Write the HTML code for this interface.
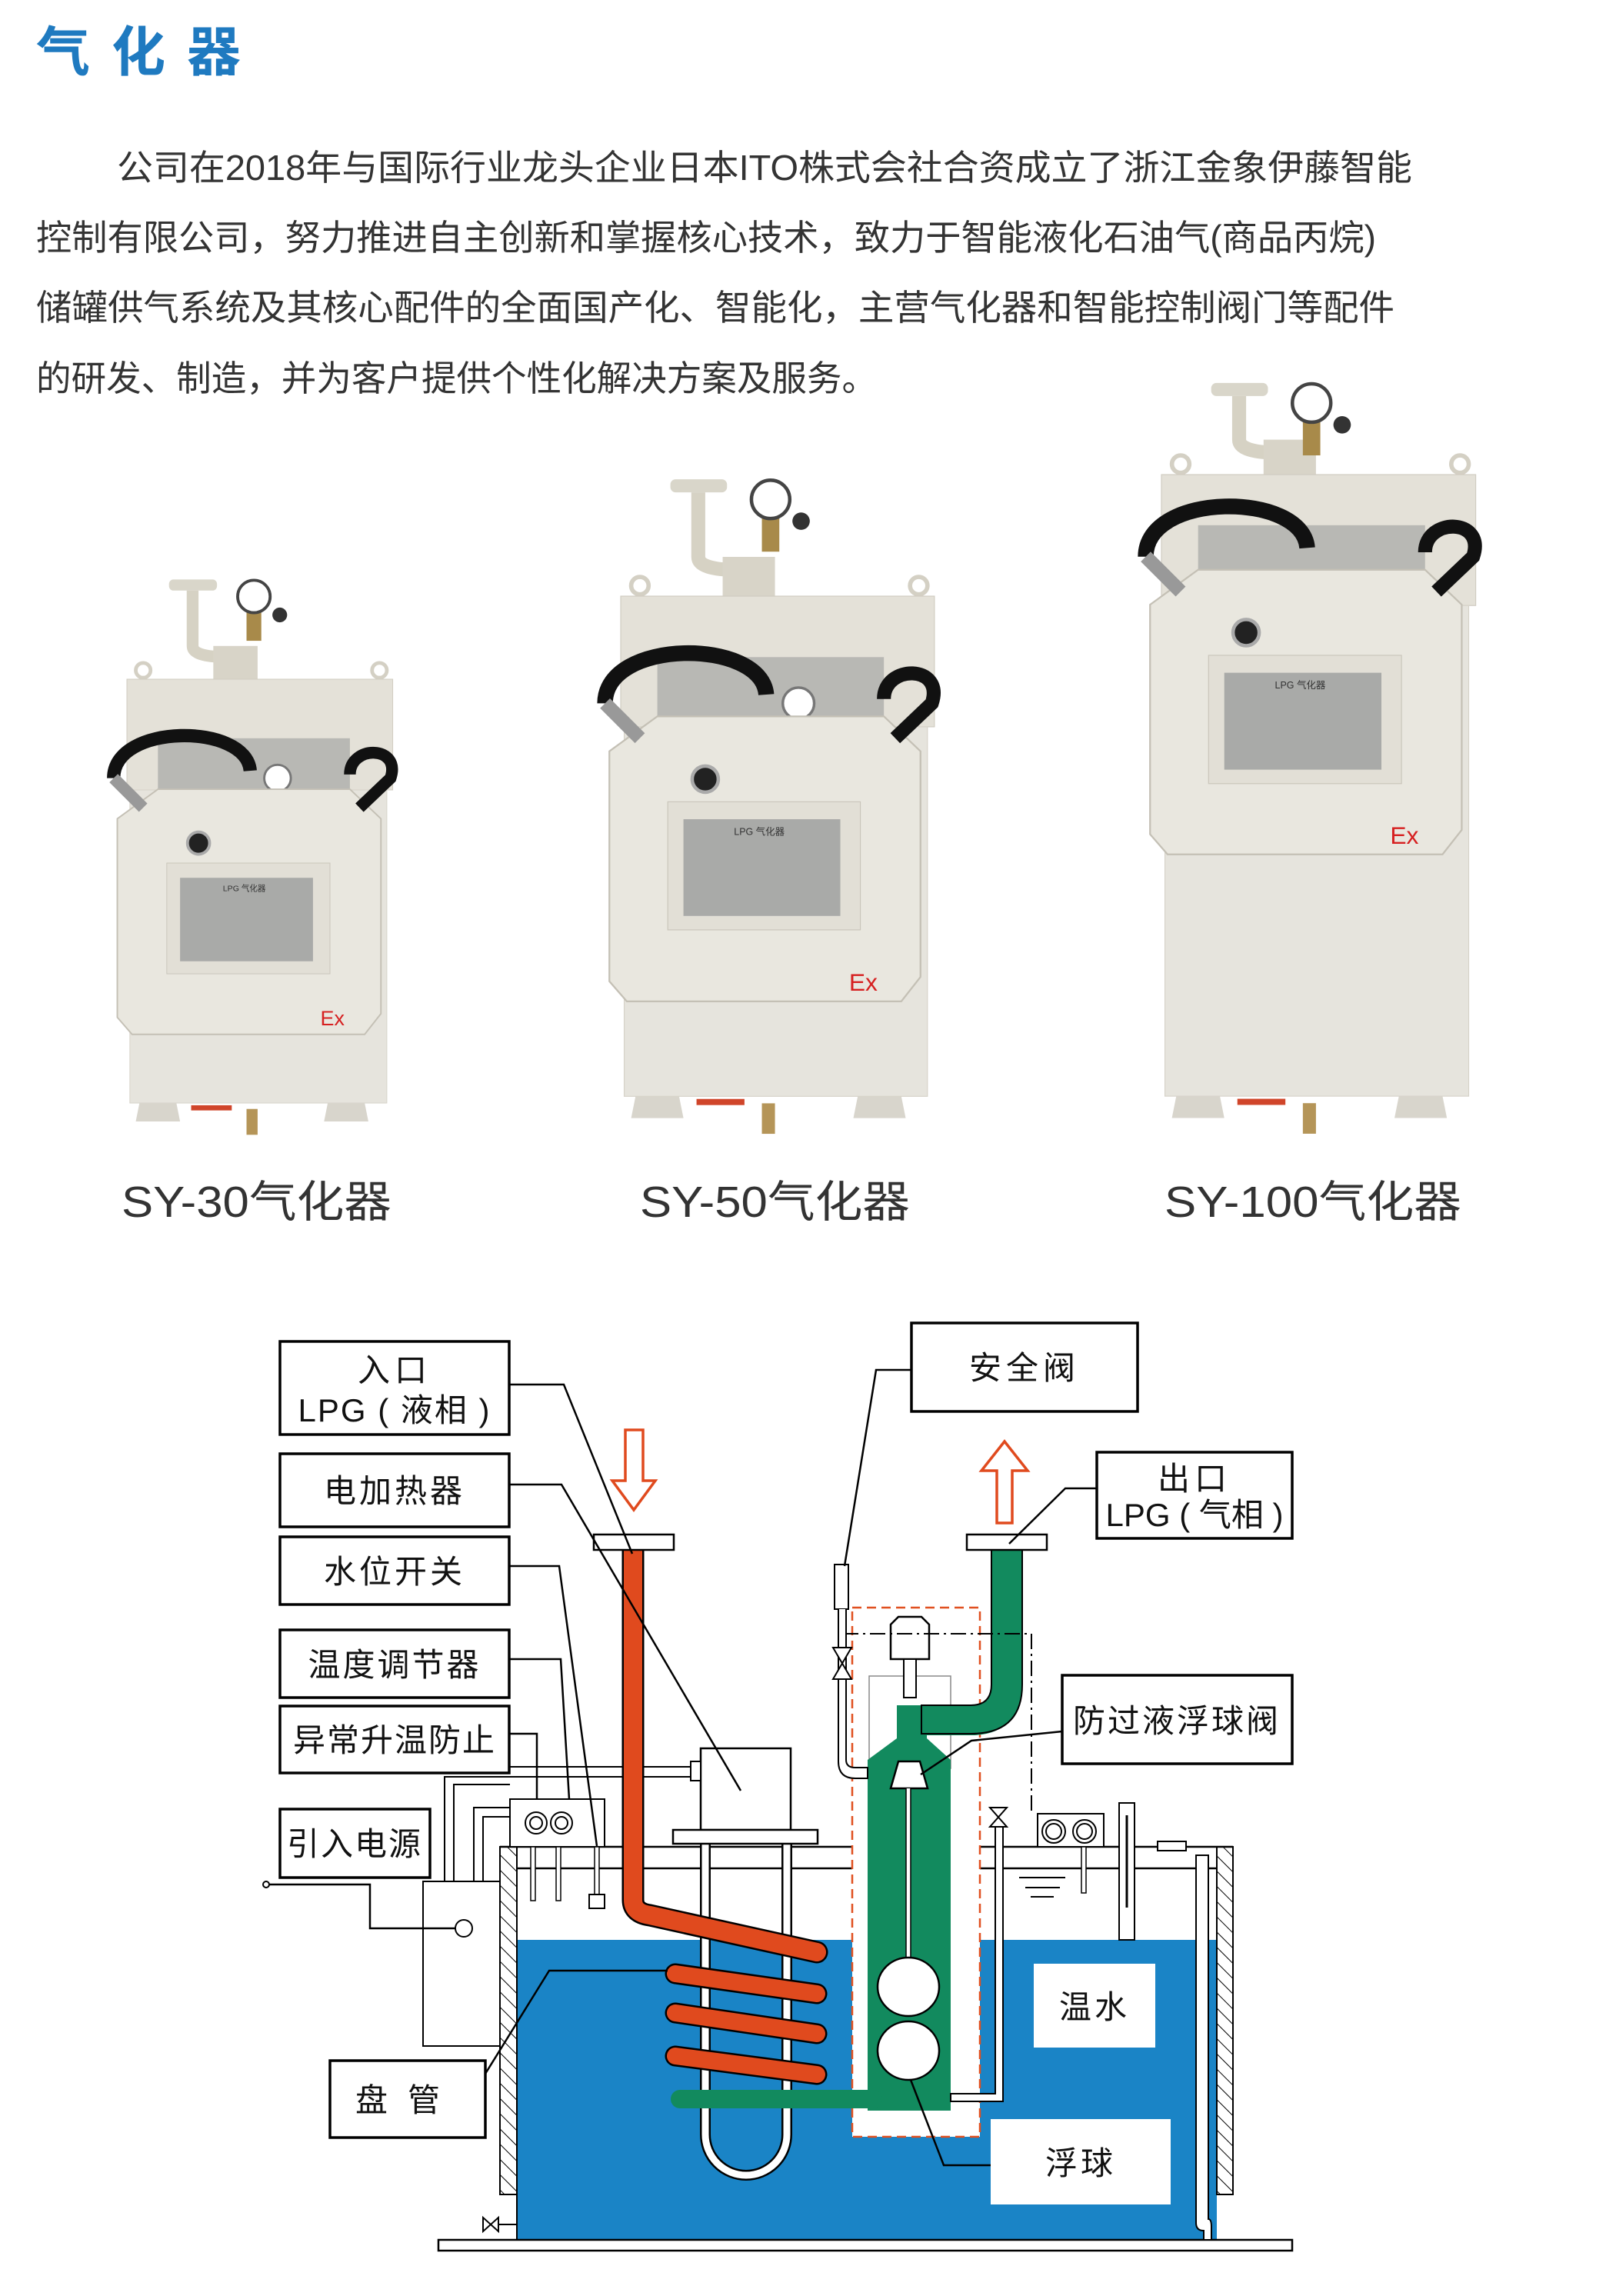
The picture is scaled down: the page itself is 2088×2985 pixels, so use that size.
<!DOCTYPE html>
<html><head><meta charset="utf-8"><style>
html,body{margin:0;padding:0;background:#fff;}
svg{display:block;}
text{font-family:"Liberation Sans","Noto Sans CJK SC",sans-serif;}
</style></head><body>
<svg width="2088" height="2985" viewBox="0 0 2088 2985" xmlns="http://www.w3.org/2000/svg">
<rect width="2088" height="2985" fill="#fff"/>
<text x="47" y="92" font-size="70" font-weight="bold" fill="#1f7ac0" textLength="266" lengthAdjust="spacing">气化器</text>
<g font-size="46" fill="#333">
<text x="152" y="234" textLength="1684" lengthAdjust="spacingAndGlyphs">公司在2018年与国际行业龙头企业日本ITO株式会社合资成立了浙江金象伊藤智能</text>
<text x="47" y="325" textLength="1742" lengthAdjust="spacingAndGlyphs">控制有限公司，努力推进自主创新和掌握核心技术，致力于智能液化石油气(商品丙烷)</text>
<text x="47" y="416" textLength="1766" lengthAdjust="spacingAndGlyphs">储罐供气系统及其核心配件的全面国产化、智能化，主营气化器和智能控制阀门等配件</text>
<text x="47" y="508" textLength="1093" lengthAdjust="spacingAndGlyphs">的研发、制造，并为客户提供个性化解决方案及服务。</text>
</g>

<!-- products -->
<g transform="translate(165,883) scale(0.96)">
<rect x="57" y="-135" width="65" height="15" rx="6" fill="#d9d6ca"/>
<path d="M89 -120 V-45 Q89 -30 135 -30" stroke="#d6d2c4" stroke-width="16" fill="none"/>
<rect x="117" y="-45" width="60" height="45" fill="#d8d4c8"/>
<rect x="162" y="-92" width="20" height="40" fill="#a88a4a"/>
<circle cx="172" cy="-112" r="22" fill="#fff" stroke="#444" stroke-width="4"/>
<circle cx="207" cy="-87" r="10" fill="#333"/>
<circle cx="22" cy="-12" r="10" fill="none" stroke="#d4d0c4" stroke-width="5"/>
<circle cx="342" cy="-12" r="10" fill="none" stroke="#d4d0c4" stroke-width="5"/>
<rect x="0" y="0" width="360" height="150" fill="#e4e1d8" stroke="#cfcbc0"/>
<rect x="4" y="150" width="348" height="424" fill="#e6e4dd" stroke="#d6d2c8"/>
<rect x="42" y="80" width="260" height="69" fill="#b8b8b4"/>
<circle cx="204" cy="134" r="18" fill="#fff" stroke="#777" stroke-width="3"/>
<polygon points="-13,189 42,149 302,149 344,189 344,453 322,481 7,481 -13,458" fill="#e9e7df" stroke="#c4c0b5" stroke-width="2"/>
<rect x="54" y="249" width="221" height="150" fill="#e2dfd6" stroke="#c9c5ba"/>
<rect x="72" y="269" width="180" height="113" fill="#a9aaa8"/>
<text x="130" y="287" font-size="11" fill="#333">LPG 气化器</text>
<circle cx="97" cy="222" r="15" fill="#222" stroke="#aaa" stroke-width="4"/>
<text x="262" y="469" font-size="28" fill="#d62020">Ex</text>
<path d="M-18 134 C-18 59 162 59 167 124" stroke="#111" stroke-width="18" fill="none"/>
<line x1="-18" y1="134" x2="22" y2="174" stroke="#999" stroke-width="16"/>
<path d="M302 129 C302 89 372 89 357 134 L315 174" stroke="#111" stroke-width="16" fill="none"/>
<polygon points="17,574 67,574 72,599 12,599" fill="#d8d5cc"/>
<polygon points="272,574 322,574 327,599 267,599" fill="#d8d5cc"/>
<rect x="87" y="577" width="55" height="7" fill="#d0452a"/>
<rect x="162" y="582" width="15" height="35" fill="#b59558"/>
</g>

<g transform="translate(807,775) scale(1.133)">
<rect x="57" y="-134" width="65" height="15" rx="6" fill="#d9d6ca"/>
<path d="M89 -119 V-45 Q89 -30 135 -30" stroke="#d6d2c4" stroke-width="16" fill="none"/>
<rect x="117" y="-45" width="60" height="45" fill="#d8d4c8"/>
<rect x="162" y="-91" width="20" height="40" fill="#a88a4a"/>
<circle cx="172" cy="-111" r="22" fill="#fff" stroke="#444" stroke-width="4"/>
<circle cx="207" cy="-86" r="10" fill="#333"/>
<circle cx="22" cy="-12" r="10" fill="none" stroke="#d4d0c4" stroke-width="5"/>
<circle cx="342" cy="-12" r="10" fill="none" stroke="#d4d0c4" stroke-width="5"/>
<rect x="0" y="0" width="360" height="150" fill="#e4e1d8" stroke="#cfcbc0"/>
<rect x="4" y="150" width="348" height="424" fill="#e6e4dd" stroke="#d6d2c8"/>
<rect x="42" y="70" width="260" height="68" fill="#b8b8b4"/>
<circle cx="204" cy="123" r="18" fill="#fff" stroke="#777" stroke-width="3"/>
<polygon points="-13,178 42,138 302,138 344,178 344,437 322,465 7,465 -13,442" fill="#e9e7df" stroke="#c4c0b5" stroke-width="2"/>
<rect x="54" y="236" width="221" height="147" fill="#e2dfd6" stroke="#c9c5ba"/>
<rect x="72" y="256" width="180" height="111" fill="#a9aaa8"/>
<text x="130" y="274" font-size="11" fill="#333">LPG 气化器</text>
<circle cx="97" cy="210" r="15" fill="#222" stroke="#aaa" stroke-width="4"/>
<text x="262" y="453" font-size="28" fill="#d62020">Ex</text>
<path d="M-18 123 C-18 48 162 48 167 113" stroke="#111" stroke-width="18" fill="none"/>
<line x1="-18" y1="123" x2="22" y2="163" stroke="#999" stroke-width="16"/>
<path d="M302 118 C302 78 372 78 357 123 L315 163" stroke="#111" stroke-width="16" fill="none"/>
<polygon points="17,574 67,574 72,599 12,599" fill="#d8d5cc"/>
<polygon points="272,574 322,574 327,599 267,599" fill="#d8d5cc"/>
<rect x="87" y="577" width="55" height="7" fill="#d0452a"/>
<rect x="162" y="582" width="15" height="35" fill="#b59558"/>
</g>

<g transform="translate(1510,617) scale(1.135)">
<rect x="57" y="-105" width="65" height="15" rx="6" fill="#d9d6ca"/>
<path d="M89 -90 V-40 Q89 -25 135 -25" stroke="#d6d2c4" stroke-width="16" fill="none"/>
<rect x="117" y="-40" width="60" height="40" fill="#d8d4c8"/>
<rect x="162" y="-62" width="20" height="40" fill="#a88a4a"/>
<circle cx="172" cy="-82" r="22" fill="#fff" stroke="#444" stroke-width="4"/>
<circle cx="207" cy="-57" r="10" fill="#333"/>
<circle cx="22" cy="-12" r="10" fill="none" stroke="#d4d0c4" stroke-width="5"/>
<circle cx="342" cy="-12" r="10" fill="none" stroke="#d4d0c4" stroke-width="5"/>
<rect x="0" y="0" width="360" height="150" fill="#e4e1d8" stroke="#cfcbc0"/>
<rect x="4" y="150" width="348" height="562" fill="#e6e4dd" stroke="#d6d2c8"/>
<rect x="42" y="58" width="260" height="51" fill="#b8b8b4"/>
<polygon points="-13,149 42,109 302,109 344,149 344,407 322,435 7,435 -13,412" fill="#e9e7df" stroke="#c4c0b5" stroke-width="2"/>
<rect x="54" y="207" width="221" height="147" fill="#e2dfd6" stroke="#c9c5ba"/>
<rect x="72" y="227" width="180" height="111" fill="#a9aaa8"/>
<text x="130" y="245" font-size="11" fill="#333">LPG 气化器</text>
<circle cx="97" cy="181" r="15" fill="#222" stroke="#aaa" stroke-width="4"/>
<text x="262" y="423" font-size="28" fill="#d62020">Ex</text>
<path d="M-18 94 C-18 19 162 19 167 84" stroke="#111" stroke-width="18" fill="none"/>
<line x1="-18" y1="94" x2="22" y2="134" stroke="#999" stroke-width="16"/>
<path d="M302 89 C302 49 372 49 357 94 L315 134" stroke="#111" stroke-width="16" fill="none"/>
<polygon points="17,712 67,712 72,737 12,737" fill="#d8d5cc"/>
<polygon points="272,712 322,712 327,737 267,737" fill="#d8d5cc"/>
<rect x="87" y="715" width="55" height="7" fill="#d0452a"/>
<rect x="162" y="720" width="15" height="35" fill="#b59558"/>
</g>

<g font-size="57" fill="#333">
<text x="158" y="1582" textLength="351" lengthAdjust="spacingAndGlyphs">SY-30气化器</text>
<text x="832" y="1582" textLength="351" lengthAdjust="spacingAndGlyphs">SY-50气化器</text>
<text x="1514" y="1582" textLength="386" lengthAdjust="spacingAndGlyphs">SY-100气化器</text>
</g>

<!-- DIAGRAM -->
<defs>
<pattern id="hatch" width="14" height="14" patternUnits="userSpaceOnUse" patternTransform="rotate(-45)">
<rect width="14" height="14" fill="#fff"/><line x1="0" y1="0" x2="0" y2="14" stroke="#000" stroke-width="2"/>
</pattern>
</defs>
<rect x="672" y="2522" width="910" height="390" fill="#1a84c6"/>
<rect x="570" y="2912" width="1110" height="14" fill="#fff" stroke="#000" stroke-width="2.5"/>
<rect x="650" y="2401" width="22" height="452" fill="url(#hatch)" stroke="#000" stroke-width="2"/>
<rect x="1582" y="2401" width="21" height="452" fill="url(#hatch)" stroke="#000" stroke-width="2"/>
<line x1="650" y1="2401" x2="1603" y2="2401" stroke="#000" stroke-width="2.5"/>
<line x1="672" y1="2429" x2="1582" y2="2429" stroke="#000" stroke-width="2.5"/>
<line x1="672" y1="2853" x2="672" y2="2912" stroke="#000" stroke-width="2"/>
<path d="M628 2883 L648 2901 L648 2883 L628 2901 Z" fill="#fff" stroke="#000" stroke-width="2"/>
<line x1="648" y1="2892" x2="672" y2="2892" stroke="#000" stroke-width="2"/>

<rect x="1108" y="2090" width="166" height="688" fill="#fff" stroke="#e05020" stroke-width="2.5" stroke-dasharray="12 7"/>
<rect x="1130" y="2179" width="106" height="120" fill="#fff" stroke="#888" stroke-width="1.5"/>
<path d="M1166 2217 H1205 V2260 L1236 2288 V2744 H1128 V2288 L1166 2260 Z" fill="#128a5e"/>
<path d="M1309 2015 V2190 Q1309 2236 1263 2236 H1198" stroke="#128a5e" stroke-width="40" fill="none"/>
<path d="M1289 2015 V2190 Q1289 2217 1262 2217 H1198 V2254 H1262 Q1329 2254 1329 2190 V2015" stroke="#000" stroke-width="2" fill="none"/>
<path d="M1158 2112 L1168 2102 H1198 L1208 2112 V2157 H1158 Z" fill="#fff" stroke="#000" stroke-width="2.5"/>
<rect x="1175" y="2157" width="16" height="50" fill="#fff" stroke="#000" stroke-width="2"/>
<path d="M1096 2124 H1341 V2358" stroke="#000" stroke-width="2" fill="none" stroke-dasharray="20 6 3 6"/>
<polygon points="1168,2290 1196,2290 1206,2325 1158,2325" fill="#fff" stroke="#000" stroke-width="2.5"/>
<line x1="1181" y1="2325" x2="1181" y2="2550" stroke="#fff" stroke-width="6"/>
<line x1="1178" y1="2325" x2="1178" y2="2550" stroke="#000" stroke-width="1.5"/>
<line x1="1184" y1="2325" x2="1184" y2="2550" stroke="#000" stroke-width="1.5"/>
<ellipse cx="1181" cy="2583" rx="40" ry="38" fill="#fff" stroke="#000" stroke-width="2.5"/>
<ellipse cx="1181" cy="2666" rx="40" ry="38" fill="#fff" stroke="#000" stroke-width="2.5"/>

<rect x="1085" y="2034" width="18" height="58" fill="#fff" stroke="#000" stroke-width="2"/>
<path d="M1090 2092 V2290 Q1090 2312 1112 2312 H1128 V2298 H1112 Q1100 2298 1100 2288 V2092" fill="#fff" stroke="#000" stroke-width="2"/>
<path d="M1083 2142 L1107 2142 L1083 2183 L1107 2183 Z" fill="#fff" stroke="#000" stroke-width="2"/>

<path d="M1294 2372 V2722 H1236 V2732 H1304 V2372" fill="#fff" stroke="#000" stroke-width="2"/>
<path d="M1287 2350 L1309 2350 L1287 2375 L1309 2375 Z" fill="#fff" stroke="#000" stroke-width="2"/>
<rect x="1349" y="2358" width="86" height="43" fill="#fff" stroke="#000" stroke-width="2"/>
<circle cx="1370" cy="2381" r="15" fill="#fff" stroke="#000" stroke-width="2"/><circle cx="1370" cy="2381" r="10" fill="none" stroke="#000" stroke-width="2"/>
<circle cx="1410" cy="2381" r="15" fill="#fff" stroke="#000" stroke-width="2"/><circle cx="1410" cy="2381" r="10" fill="none" stroke="#000" stroke-width="2"/>
<rect x="1406" y="2401" width="6" height="60" fill="#fff" stroke="#000" stroke-width="1.5"/>
<rect x="1455" y="2344" width="20" height="178" fill="#fff" stroke="#000" stroke-width="2"/>
<line x1="1465" y1="2360" x2="1465" y2="2480" stroke="#000" stroke-width="3"/>
<line x1="1325" y1="2441" x2="1385" y2="2441" stroke="#000" stroke-width="2"/>
<line x1="1333" y1="2454" x2="1378" y2="2454" stroke="#000" stroke-width="2"/>
<line x1="1340" y1="2466" x2="1370" y2="2466" stroke="#000" stroke-width="2"/>
<rect x="1505" y="2394" width="37" height="12" fill="#fff" stroke="#000" stroke-width="2"/>
<path d="M1555 2412 V2890 Q1555 2900 1565 2900 V2912 H1575 V2895 Q1575 2885 1571 2885 V2412 Z" fill="#fff" stroke="#000" stroke-width="2"/>

<path d="M917 2397 V2775 A53 53 0 0 0 1023 2775 V2397" stroke="#000" stroke-width="14" fill="none"/>
<path d="M917 2397 V2775 A53 53 0 0 0 1023 2775 V2397" stroke="#fff" stroke-width="9" fill="none"/>
<rect x="911" y="2273" width="117" height="106" fill="#fff" stroke="#000" stroke-width="2.5"/>
<rect x="875" y="2379" width="188" height="18" fill="#fff" stroke="#000" stroke-width="2.5"/>
<rect x="898" y="2290" width="13" height="25" fill="#fff" stroke="#000" stroke-width="2"/>
<line x1="663" y1="2297" x2="898" y2="2297" stroke="#000" stroke-width="2"/>
<line x1="663" y1="2310" x2="898" y2="2310" stroke="#000" stroke-width="2"/>

<g stroke-linecap="round" fill="none">
<path d="M823 2015 V2470 Q823 2487 845 2490 L1062 2538" stroke="#000" stroke-width="29"/>
<path d="M823 2015 V2470 Q823 2487 845 2490 L1062 2538" stroke="#e04a1e" stroke-width="24"/>
<line x1="878" y1="2566" x2="1062" y2="2592" stroke="#000" stroke-width="27"/>
<line x1="878" y1="2566" x2="1062" y2="2592" stroke="#e04a1e" stroke-width="22"/>
<line x1="878" y1="2617" x2="1062" y2="2644" stroke="#000" stroke-width="27"/>
<line x1="878" y1="2617" x2="1062" y2="2644" stroke="#e04a1e" stroke-width="22"/>
<line x1="878" y1="2673" x2="1062" y2="2697" stroke="#000" stroke-width="27"/>
<line x1="878" y1="2673" x2="1062" y2="2697" stroke="#e04a1e" stroke-width="22"/>
<line x1="884" y1="2729" x2="1135" y2="2729" stroke="#128a5e" stroke-width="24"/>
</g>
<rect x="772" y="1995" width="104" height="20" fill="#fff" stroke="#000" stroke-width="2.5"/>
<rect x="1257" y="1995" width="104" height="20" fill="#fff" stroke="#000" stroke-width="2.5"/>
<path d="M813 1859 H836 V1925 H852 L824 1963 L796 1925 H813 Z" fill="#fff" stroke="#e04a1e" stroke-width="3.5"/>
<path d="M1296 1980 H1316 V1912 H1336 L1306 1874 L1276 1912 H1296 Z" fill="#fff" stroke="#e04a1e" stroke-width="3.5"/>

<rect x="663" y="2339" width="123" height="62" fill="#fff" stroke="#000" stroke-width="2"/>
<circle cx="697" cy="2370" r="14" fill="#fff" stroke="#000" stroke-width="2"/><circle cx="697" cy="2370" r="8" fill="none" stroke="#000" stroke-width="2"/>
<circle cx="730" cy="2370" r="14" fill="#fff" stroke="#000" stroke-width="2"/><circle cx="730" cy="2370" r="8" fill="none" stroke="#000" stroke-width="2"/>
<rect x="690" y="2401" width="6" height="70" fill="#fff" stroke="#000" stroke-width="1.5"/>
<rect x="723" y="2401" width="6" height="70" fill="#fff" stroke="#000" stroke-width="1.5"/>
<rect x="773" y="2401" width="6" height="70" fill="#fff" stroke="#000" stroke-width="1.5"/>
<rect x="766" y="2463" width="20" height="18" fill="#fff" stroke="#000" stroke-width="2"/>
<rect x="550" y="2446" width="100" height="214" fill="#fff" stroke="#000" stroke-width="2"/>
<circle cx="603" cy="2507" r="11" fill="#fff" stroke="#000" stroke-width="2"/>
<path d="M578 2446 V2310 H663 M590 2446 V2320 H663 M616 2446 V2350 H663 M628 2446 V2362 H663" stroke="#000" stroke-width="2" fill="none"/>

<g stroke="#000" stroke-width="2.5" fill="none">
<polyline points="662,1800 733,1800 822,2020"/>
<polyline points="662,1930 730,1930 963,2328"/>
<polyline points="662,2036 727,2036 776,2400"/>
<polyline points="662,2157 729,2157 740,2339"/>
<polyline points="662,2254 698,2254 698,2339"/>
<polyline points="350,2450 481,2450 481,2507 592,2507"/>
<polyline points="631,2696 714,2562 868,2562"/>
<polyline points="1185,1781 1139,1781 1098,2036"/>
<polyline points="1426,1935 1385,1935 1312,2007"/>
<polyline points="1381,2251 1263,2263 1197,2307"/>
<polyline points="1288,2815 1227,2815 1184,2704"/>
</g>
<circle cx="346" cy="2450" r="4" fill="#fff" stroke="#000" stroke-width="2"/>

<g fill="#fff" stroke="#000" stroke-width="3.5">
<rect x="364" y="1744" width="298" height="121"/>
<rect x="364" y="1890" width="298" height="95"/>
<rect x="364" y="1998" width="298" height="88"/>
<rect x="364" y="2119" width="298" height="88"/>
<rect x="364" y="2218" width="298" height="87"/>
<rect x="364" y="2352" width="195" height="89"/>
<rect x="429" y="2679" width="202" height="100"/>
<rect x="1185" y="1720" width="294" height="115"/>
<rect x="1426" y="1888" width="254" height="112"/>
<rect x="1381" y="2178" width="299" height="115"/>
</g>
<rect x="1344" y="2553" width="158" height="109" fill="#fff"/>
<rect x="1288" y="2755" width="234" height="111" fill="#fff"/>
<g font-size="42" fill="#111" text-anchor="middle">
<text x="513" y="1796" letter-spacing="6">入口</text>
<text x="513" y="1848" letter-spacing="2">LPG ( 液相 )</text>
<text x="513" y="1953" letter-spacing="4">电加热器</text>
<text x="513" y="2058" letter-spacing="4">水位开关</text>
<text x="513" y="2179" letter-spacing="3">温度调节器</text>
<text x="513" y="2277" letter-spacing="2">异常升温防止</text>
<text x="461" y="2412" letter-spacing="2">引入电源</text>
<text x="530" y="2745" letter-spacing="26">盘管</text>
<text x="1332" y="1793" letter-spacing="6">安全阀</text>
<text x="1553" y="1937" letter-spacing="6">出口</text>
<text x="1553" y="1984">LPG ( 气相 )</text>
<text x="1530" y="2252" letter-spacing="3">防过液浮球阀</text>
<text x="1423" y="2624" letter-spacing="4">温水</text>
<text x="1405" y="2827" letter-spacing="4">浮球</text>
</g>
</svg>
</body></html>
